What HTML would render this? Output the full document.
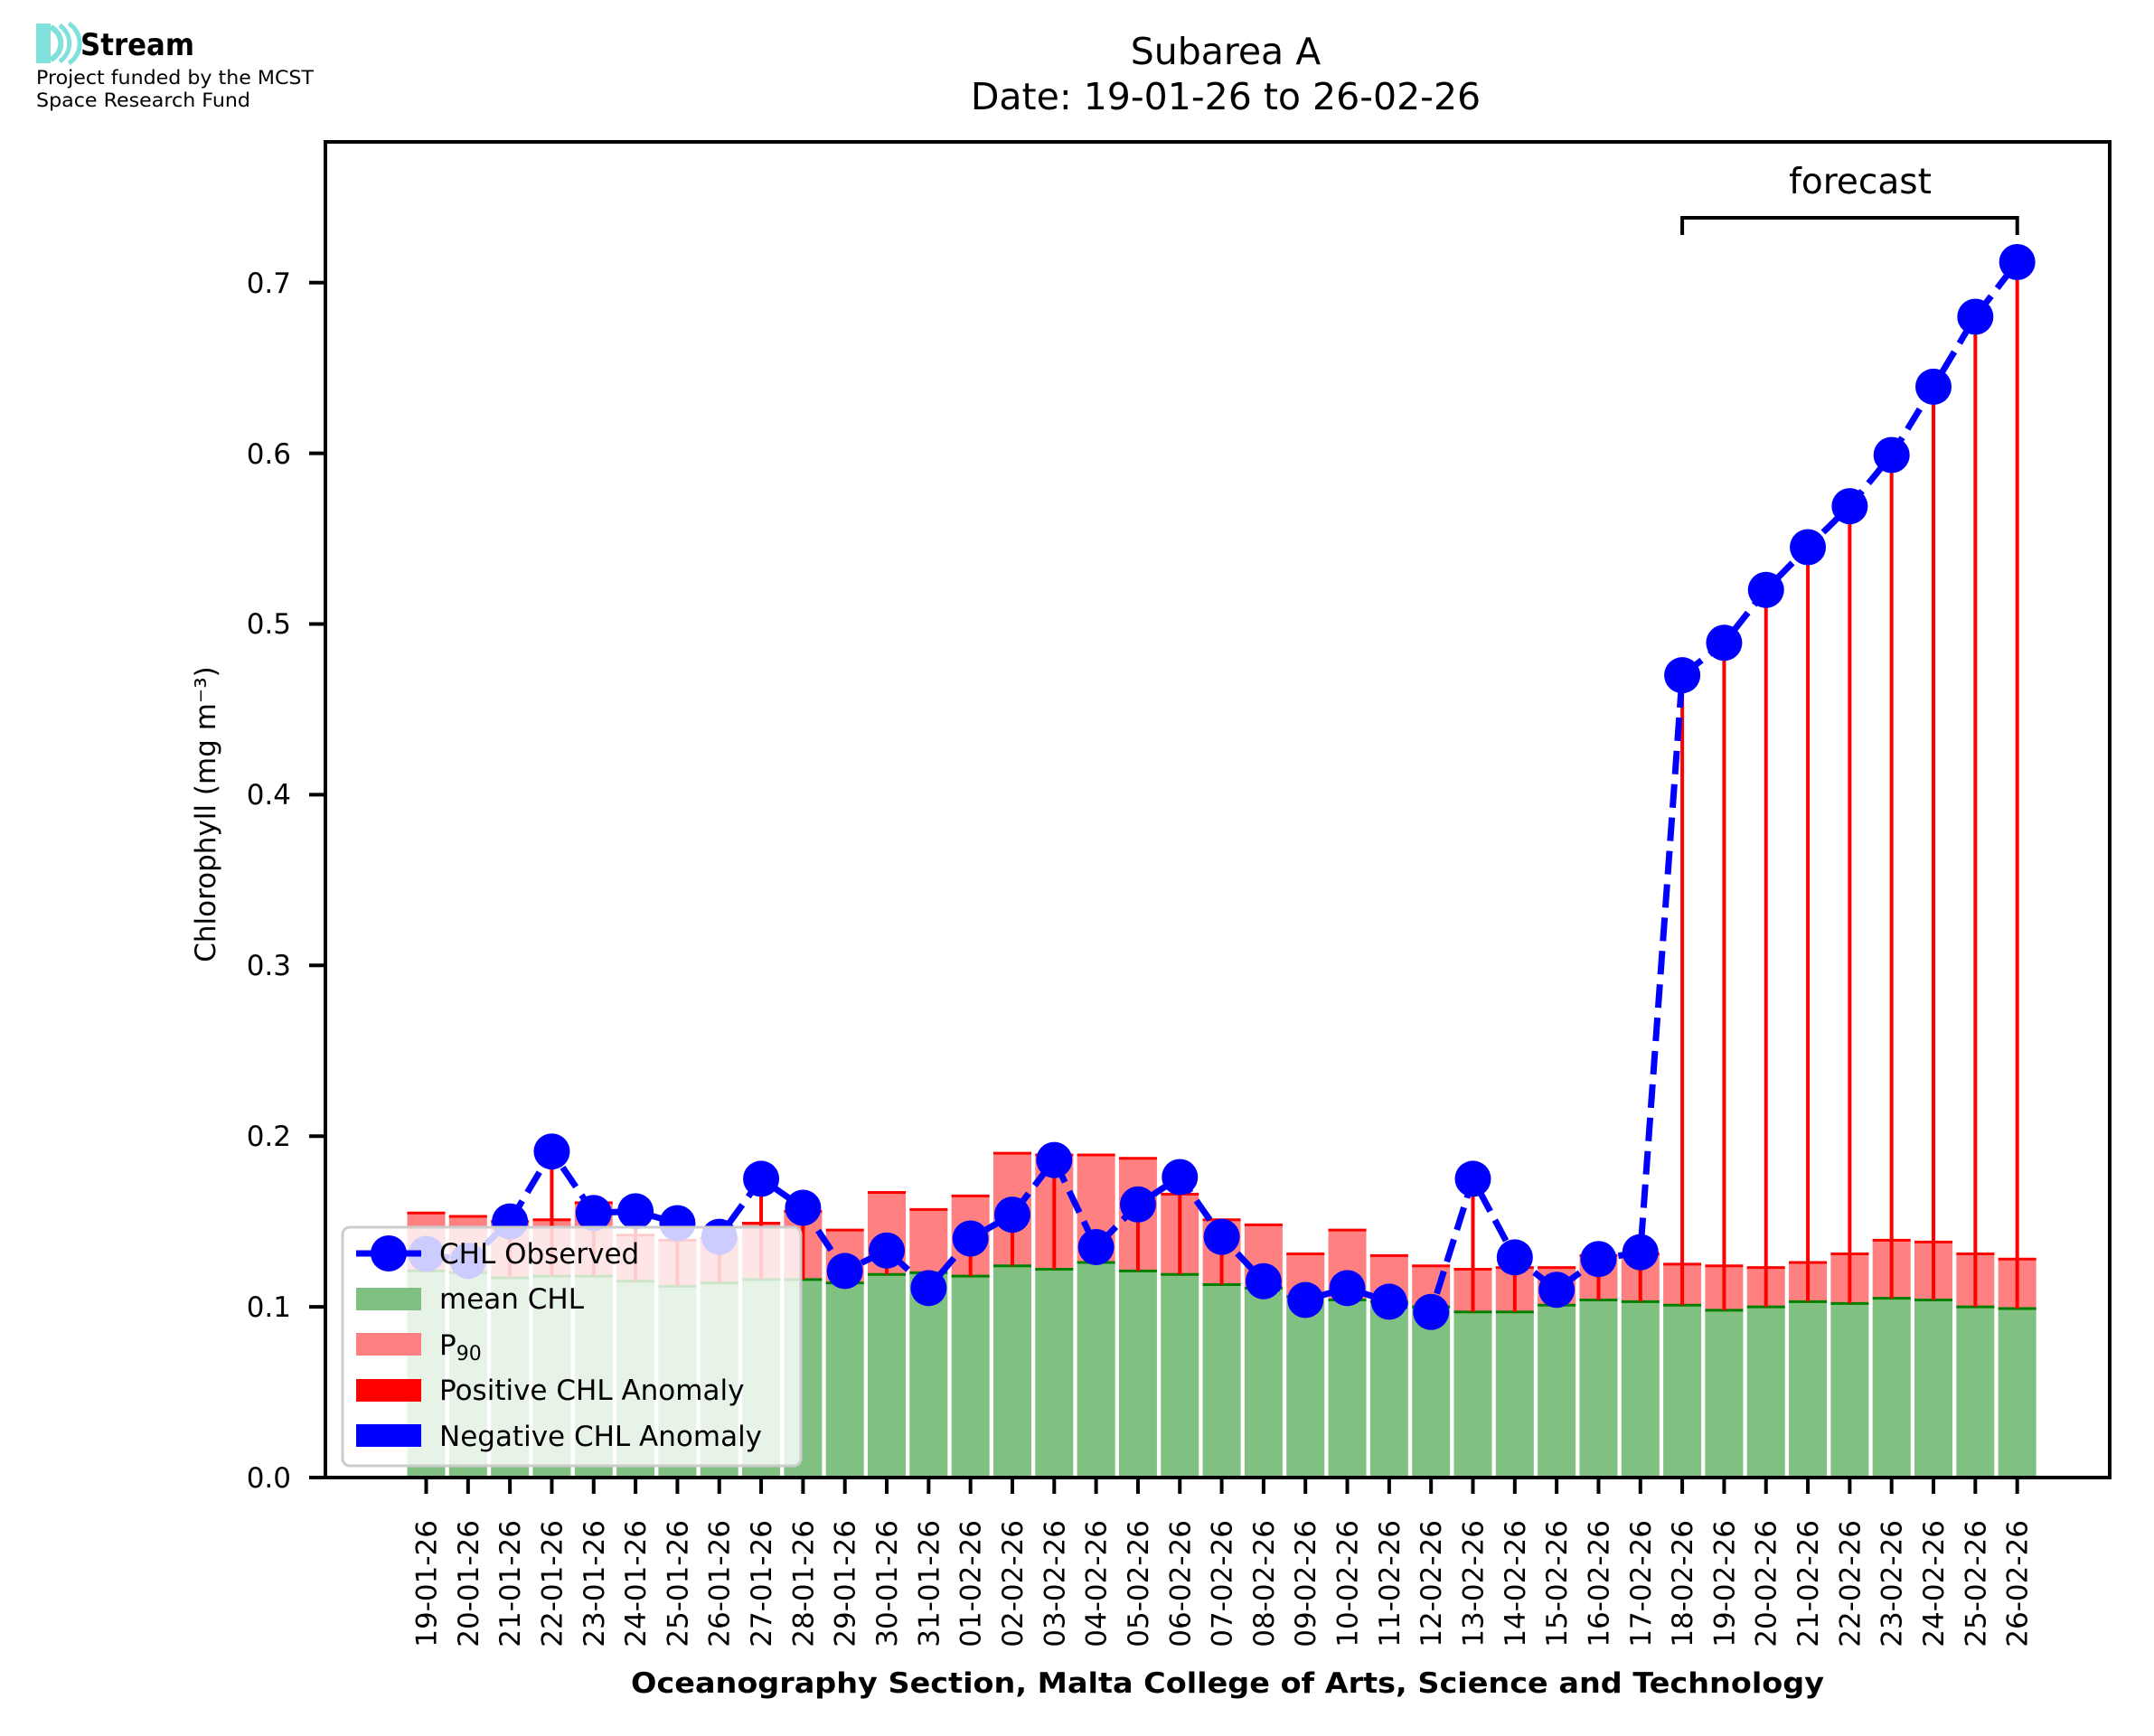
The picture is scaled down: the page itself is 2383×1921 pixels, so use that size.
<!DOCTYPE html>
<html><head><meta charset="utf-8"><style>
html,body{margin:0;padding:0;background:#fff}
svg{display:block}
text{font-family:"DejaVu Sans","Liberation Sans",sans-serif;fill:#000}
</style></head><body>
<svg id="s" width="2383" height="1921" viewBox="0 0 2383 1921" xmlns="http://www.w3.org/2000/svg">
<rect width="2383" height="1921" fill="#fff"/>
<g>
<rect x="40" y="26" width="16" height="44" fill="#7fe0dc"/>
<path d="M56 30 a20 20 0 0 1 0 36" fill="none" stroke="#7fe0dc" stroke-width="6"/>
<path d="M66 28 a24 24 0 0 1 0 40" fill="none" stroke="#7fe0dc" stroke-width="5"/>
<path d="M76 26 a26 26 0 0 1 0 44" fill="none" stroke="#7fe0dc" stroke-width="5"/>
<text x="89" y="61" font-size="34" font-weight="bold" textLength="126" lengthAdjust="spacingAndGlyphs">Stream</text>
<text x="40" y="93" font-size="21" textLength="307" lengthAdjust="spacingAndGlyphs">Project funded by the MCST</text>
<text x="40" y="118" font-size="21" textLength="237" lengthAdjust="spacingAndGlyphs">Space Research Fund</text>
</g>
<text x="1356" y="71" font-size="41" text-anchor="middle">Subarea A</text>
<text x="1356" y="121" font-size="41" text-anchor="middle">Date: 19-01-26 to 26-02-26</text>
<g id="plot"></g>
<rect x="360" y="157" width="1974" height="1478" fill="none" stroke="#000" stroke-width="4"/>
<g stroke="#000" stroke-width="4">
<line x1="342" y1="1635" x2="360" y2="1635"/><line x1="342" y1="1446.1" x2="360" y2="1446.1"/>
<line x1="342" y1="1257.2" x2="360" y2="1257.2"/><line x1="342" y1="1068.3" x2="360" y2="1068.3"/>
<line x1="342" y1="879.4" x2="360" y2="879.4"/><line x1="342" y1="690.5" x2="360" y2="690.5"/>
<line x1="342" y1="501.6" x2="360" y2="501.6"/><line x1="342" y1="312.7" x2="360" y2="312.7"/>
</g>
<g font-size="31" text-anchor="end">
<text x="322" y="1646">0.0</text><text x="322" y="1457">0.1</text><text x="322" y="1268">0.2</text>
<text x="322" y="1079">0.3</text><text x="322" y="890">0.4</text><text x="322" y="701">0.5</text>
<text x="322" y="513">0.6</text><text x="322" y="324">0.7</text>
</g>
<text transform="translate(238,901) rotate(-90)" font-size="31" text-anchor="middle">Chlorophyll (mg m⁻³)</text>
<g id="xt" font-size="31" text-anchor="end">
<text transform="translate(482.5,1682) rotate(-90)">19-01-26</text>
<text transform="translate(528.8,1682) rotate(-90)">20-01-26</text>
<text transform="translate(575.1,1682) rotate(-90)">21-01-26</text>
<text transform="translate(621.5,1682) rotate(-90)">22-01-26</text>
<text transform="translate(667.8,1682) rotate(-90)">23-01-26</text>
<text transform="translate(714.1,1682) rotate(-90)">24-01-26</text>
<text transform="translate(760.4,1682) rotate(-90)">25-01-26</text>
<text transform="translate(806.7,1682) rotate(-90)">26-01-26</text>
<text transform="translate(853.1,1682) rotate(-90)">27-01-26</text>
<text transform="translate(899.4,1682) rotate(-90)">28-01-26</text>
<text transform="translate(945.7,1682) rotate(-90)">29-01-26</text>
<text transform="translate(992.0,1682) rotate(-90)">30-01-26</text>
<text transform="translate(1038.3,1682) rotate(-90)">31-01-26</text>
<text transform="translate(1084.7,1682) rotate(-90)">01-02-26</text>
<text transform="translate(1131.0,1682) rotate(-90)">02-02-26</text>
<text transform="translate(1177.3,1682) rotate(-90)">03-02-26</text>
<text transform="translate(1223.6,1682) rotate(-90)">04-02-26</text>
<text transform="translate(1269.9,1682) rotate(-90)">05-02-26</text>
<text transform="translate(1316.3,1682) rotate(-90)">06-02-26</text>
<text transform="translate(1362.6,1682) rotate(-90)">07-02-26</text>
<text transform="translate(1408.9,1682) rotate(-90)">08-02-26</text>
<text transform="translate(1455.2,1682) rotate(-90)">09-02-26</text>
<text transform="translate(1501.5,1682) rotate(-90)">10-02-26</text>
<text transform="translate(1547.9,1682) rotate(-90)">11-02-26</text>
<text transform="translate(1594.2,1682) rotate(-90)">12-02-26</text>
<text transform="translate(1640.5,1682) rotate(-90)">13-02-26</text>
<text transform="translate(1686.8,1682) rotate(-90)">14-02-26</text>
<text transform="translate(1733.1,1682) rotate(-90)">15-02-26</text>
<text transform="translate(1779.5,1682) rotate(-90)">16-02-26</text>
<text transform="translate(1825.8,1682) rotate(-90)">17-02-26</text>
<text transform="translate(1872.1,1682) rotate(-90)">18-02-26</text>
<text transform="translate(1918.4,1682) rotate(-90)">19-02-26</text>
<text transform="translate(1964.7,1682) rotate(-90)">20-02-26</text>
<text transform="translate(2011.1,1682) rotate(-90)">21-02-26</text>
<text transform="translate(2057.4,1682) rotate(-90)">22-02-26</text>
<text transform="translate(2103.7,1682) rotate(-90)">23-02-26</text>
<text transform="translate(2150.0,1682) rotate(-90)">24-02-26</text>
<text transform="translate(2196.3,1682) rotate(-90)">25-02-26</text>
<text transform="translate(2242.7,1682) rotate(-90)">26-02-26</text>
</g>
<text x="1358" y="1873" font-size="31" font-weight="bold" text-anchor="middle" textLength="1320" lengthAdjust="spacingAndGlyphs">Oceanography Section, Malta College of Arts, Science and Technology</text>
<path d="M1861.1 260 V241 H2231.7 V260" fill="none" stroke="#000" stroke-width="4"/>
<text x="2058" y="214" font-size="39" text-anchor="middle">forecast</text>
<g id="leg"></g>
<g>
<rect x="379" y="1358" width="507" height="264" rx="8" fill="#fff" fill-opacity="0.8" stroke="#ccc" stroke-width="3"/>
<line x1="394" y1="1387" x2="466" y2="1387" stroke="#00f" stroke-width="7"/>
<circle cx="430" cy="1387" r="20" fill="#00f"/>
<rect x="394" y="1425" width="72" height="25" fill="#80c080"/>
<rect x="394" y="1475" width="72" height="25" fill="#ff8080"/>
<rect x="394" y="1526" width="72" height="25" fill="#ff0000"/>
<rect x="394" y="1576" width="72" height="25" fill="#0000ff"/>
<g font-size="31">
<text x="486" y="1398">CHL Observed</text>
<text x="486" y="1448">mean CHL</text>
<text x="486" y="1499">P<tspan font-size="22" dy="6">90</tspan></text>
<text x="486" y="1549">Positive CHL Anomaly</text>
<text x="486" y="1600">Negative CHL Anomaly</text>
</g>
</g>
<script>
(function(){
var obs=[0.131,0.127,0.150,0.191,0.155,0.156,0.149,0.141,0.175,0.158,0.121,0.133,0.111,0.140,0.154,0.186,0.135,0.160,0.176,0.141,0.115,0.104,0.111,0.103,0.097,0.175,0.129,0.110,0.128,0.132,0.470,0.489,0.520,0.545,0.569,0.599,0.639,0.680,0.712];
var mean=[0.121,0.120,0.117,0.118,0.118,0.115,0.112,0.114,0.116,0.116,0.114,0.119,0.120,0.118,0.124,0.122,0.126,0.121,0.119,0.113,0.111,0.106,0.104,0.103,0.100,0.097,0.097,0.101,0.104,0.103,0.101,0.098,0.100,0.103,0.102,0.105,0.104,0.100,0.099];
var p90=[0.155,0.153,0.150,0.151,0.161,0.142,0.139,0.140,0.149,0.156,0.145,0.167,0.157,0.165,0.190,0.189,0.189,0.187,0.166,0.151,0.148,0.131,0.145,0.130,0.124,0.122,0.123,0.123,0.130,0.131,0.125,0.124,0.123,0.126,0.131,0.139,0.138,0.131,0.128];
var NS="http://www.w3.org/2000/svg",g=document.getElementById('plot');
function X(i){return 471.5+i*46.32}function Y(v){return 1635-v*1889}
function el(t,a){var e=document.createElementNS(NS,t);for(var k in a)e.setAttribute(k,a[k]);g.appendChild(e);return e}
var w=42;
for(var i=0;i<39;i++){
 var x=X(i)-w/2;
 el('rect',{x:x,y:Y(mean[i]),width:w,height:Y(0)-Y(mean[i]),fill:'#80c080'});
 el('rect',{x:x,y:Y(p90[i]),width:w,height:Y(mean[i])-Y(p90[i]),fill:'#ff8080'});
 el('line',{x1:x,x2:x+w,y1:Y(mean[i]),y2:Y(mean[i]),stroke:'#008000','stroke-width':3});
 el('line',{x1:x,x2:x+w,y1:Y(p90[i]),y2:Y(p90[i]),stroke:'#ff0000','stroke-width':3});
}
for(var i=0;i<39;i++){
 if(obs[i]>mean[i]) el('line',{x1:X(i),x2:X(i),y1:Y(mean[i]),y2:Y(obs[i]),stroke:'#ff0000','stroke-width':4});
}
var d='';for(var i=0;i<39;i++)d+=(i?'L':'M')+X(i).toFixed(1)+' '+Y(obs[i]).toFixed(1);
el('path',{d:d,fill:'none',stroke:'#0000ff','stroke-width':7,'stroke-dasharray':'26 11'});
for(var i=0;i<39;i++)el('circle',{cx:X(i),cy:Y(obs[i]),r:20,fill:'#0000ff'});
for(var i=0;i<39;i++)el('line',{x1:X(i),x2:X(i),y1:1635,y2:1653,stroke:'#000','stroke-width':4});
})();
</script>
</svg>
</body></html>
